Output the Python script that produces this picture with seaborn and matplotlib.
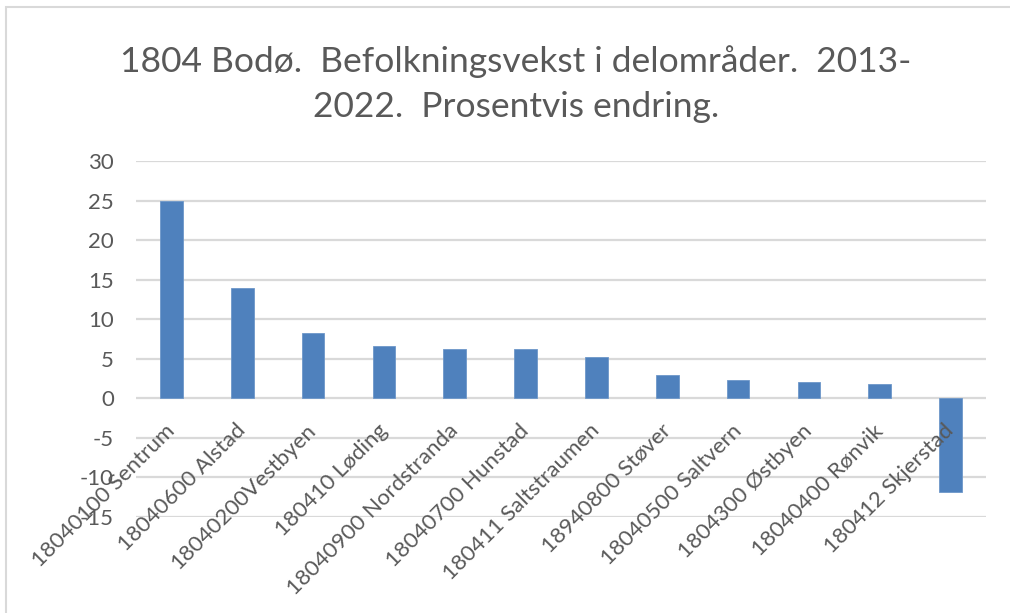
import matplotlib
matplotlib.use("Agg")
import matplotlib.pyplot as plt
import seaborn as sns
import pandas as pd
from matplotlib.patches import Rectangle

categories = ["18040100 Sentrum", "18040600 Alstad", "18040200Vestbyen", "180410 Løding",
              "18040900 Nordstranda", "18040700 Hunstad", "180411 Saltstraumen",
              "18940800 Støver", "18040500 Saltvern", "1804300 Østbyen",
              "18040400 Rønvik", "180412 Skjerstad"]
values = [25.0, 14.0, 8.3, 6.6, 6.2, 6.2, 5.2, 3.0, 2.3, 2.1, 1.8, -11.9]
y_ticks = [30, 25, 20, 15, 10, 5, 0, -5, -10, -15]
title_lines = ["1804 Bodø.  Befolkningsvekst i delområder.  2013-", "2022.  Prosentvis endring."]

sns.set_theme(style="white")
plt.rcParams['font.family'] = ['Lato', 'DejaVu Sans']
plt.rcParams['axes.unicode_minus'] = False

df = pd.DataFrame({"omrade": categories, "endring": values})

fig = plt.figure(figsize=(10.1, 6.13), dpi=100)
ax = fig.add_axes([136/1010, 1 - 517/613, (986-136)/1010, (517-161)/613])

sns.barplot(data=df, x="omrade", y="endring", color="#4F81BD", width=0.32,
            saturation=1, ax=ax, edgecolor="#6D97C9", linewidth=0.6, zorder=2)

ax.set_ylim(-15, 30)
ax.set_yticks(y_ticks)
ax.set_xlim(-0.5, len(categories) - 0.5)
ax.set_xlabel("")
ax.set_ylabel("")
ax.grid(False)
ax.set_axisbelow(False)
for yv in y_ticks:
    ax.axhline(yv, color="#D9D9D9", linewidth=1.6, zorder=0)
for s in ["top", "right", "left", "bottom"]:
    ax.spines[s].set_visible(False)
ax.spines["bottom"].set_position(("data", 0))

ax.tick_params(axis="y", length=0, pad=16, labelsize=16, labelcolor="#595959")
ax.tick_params(axis="x", length=0, pad=21, labelsize=16, labelcolor="#595959")
for lab in ax.get_xticklabels():
    lab.set_rotation(45)
    lab.set_ha("right")
    lab.set_va("center")
    lab.set_rotation_mode("anchor")

fig.text(516/1010, 1 - 72/613, title_lines[0], ha="center", va="baseline",
         fontsize=25.5, color="#595959")
fig.text(516/1010, 1 - 117/613, title_lines[1], ha="center", va="baseline",
         fontsize=25.5, color="#595959")

fig.patches.append(Rectangle((6/1010, -0.1), 1.2, 1 - 7/613 + 0.1, transform=fig.transFigure,
                             fill=False, edgecolor="#D9D9D9", linewidth=1.5))

fig.savefig("out.png", dpi=100, facecolor="white")
